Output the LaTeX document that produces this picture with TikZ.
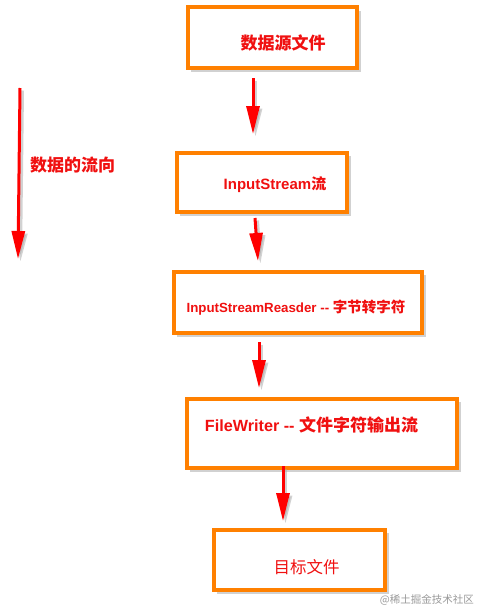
\documentclass[tikz,border=0pt]{standalone}
\usepackage{fontspec}
\setmainfont{Liberation Sans}
\newfontfamily\cjk{Noto Sans CJK SC}
\usetikzlibrary{arrows.meta}
\definecolor{boxorange}{HTML}{FF8000}
\definecolor{txtred}{HTML}{F01010}
\tikzset{
  x=1pt, y=-1pt,
  flowbox/.style={draw=boxorange, line width=4pt, fill=white, inner sep=0pt},
  boxshadow/.style={fill=black!30, draw=none, opacity=0.6},
  lbl/.style={text=txtred, inner sep=0pt, font=\bfseries},
  flowarrow/.style={draw=red, line width=3pt, -{Triangle[length=28pt,width=13pt]}},
  arrowshadow/.style={draw=black!35, opacity=0.5, line width=3pt, -{Triangle[length=28pt,width=13pt]}},
}
\begin{document}
\begin{tikzpicture}
\useasboundingbox (0,0) rectangle (477,608);
% shadows of boxes
\fill[boxshadow] (191,11) rectangle (361,72);
\fill[boxshadow] (180,156) rectangle (351,216);
\fill[boxshadow] (177,275) rectangle (426,337);
\fill[boxshadow] (190,402) rectangle (461,472);
\fill[boxshadow] (217,533) rectangle (389,594);
% boxes
\node[flowbox, minimum width=169pt, minimum height=61pt] (b1) at (272.5,37.5) {};
\node[flowbox, minimum width=170pt, minimum height=59pt] (b2) at (262,182.5) {};
\node[flowbox, minimum width=248pt, minimum height=61pt] (b3) at (298,302.5) {};
\node[flowbox, minimum width=270pt, minimum height=69pt] (b4) at (322,433.5) {};
\node[flowbox, minimum width=171pt, minimum height=60pt] (b5) at (299.5,560) {};
% labels
\node[lbl, font=\cjk\bfseries\fontsize{17}{20}\selectfont] (t1) at (283,43) {数据源文件};
\node[lbl, font=\bfseries\fontsize{15}{18}\selectfont] (t2) at (275,185) {InputStream{\cjk\bfseries 流}};
\node[lbl, font=\bfseries\fontsize{13.3}{16}\selectfont] (t3) at (296,308) {InputStreamReasder -{}- {\cjk\bfseries\fontsize{14.5}{16}\selectfont 字节转字符}};
\node[lbl, font=\bfseries\fontsize{16.2}{19}\selectfont] (t4) at (311.5,425) {FileWriter -{}- {\cjk\bfseries\fontsize{17}{19}\selectfont 文件字符输出流}};
\node[lbl, font=\cjk\fontsize{16.5}{19}\selectfont] (t5) at (306.5,567) {目标文件};
\node[lbl, font=\cjk\bfseries\fontsize{17}{20}\selectfont, anchor=west] (t6) at (30,165) {数据的流向};
% arrow coordinates
\coordinate (a1s) at (253,78);  \coordinate (a1e) at (253,134);
\coordinate (a2s) at (255,218); \coordinate (a2e) at (258,261);
\coordinate (a3s) at (259,342); \coordinate (a3e) at (259,388);
\coordinate (a4s) at (283,466); \coordinate (a4e) at (283,521);
\coordinate (a5s) at (20,88);   \coordinate (a5e) at (18,259);
% arrow shadows
\foreach \s/\e in {a1s/a1e,a2s/a2e,a3s/a3e,a4s/a4e,a5s/a5e}
  \draw[arrowshadow, transform canvas={xshift=2.5pt,yshift=-2.5pt}] (\s) -- (\e);
% arrows
\foreach \s/\e in {a1s/a1e,a2s/a2e,a3s/a3e,a4s/a4e,a5s/a5e}
  \draw[flowarrow] (\s) -- (\e);
% watermark
\node[text=black!40, inner sep=0pt, font=\cjk\fontsize{10.5}{12}\selectfont, anchor=east] (wm) at (474,600) {@稀土掘金技术社区};
\end{tikzpicture}
\end{document}
